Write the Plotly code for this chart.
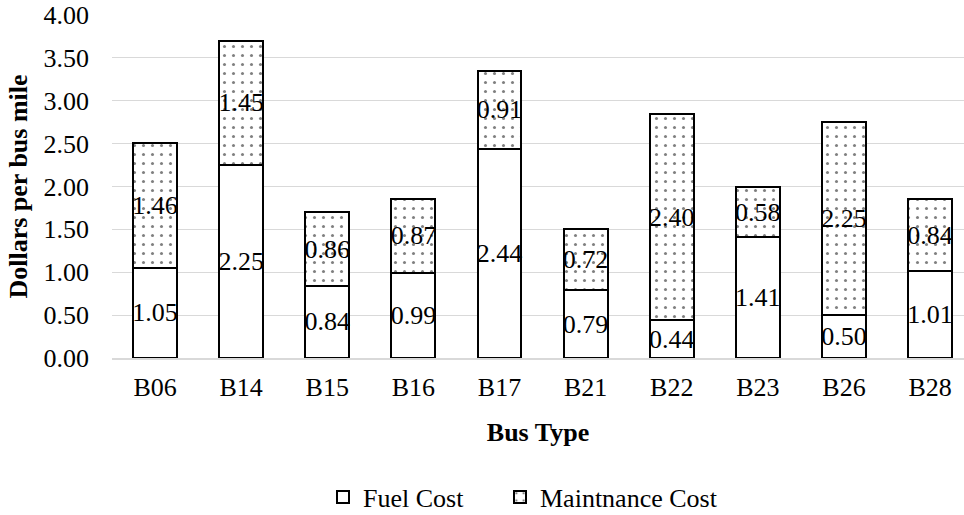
import plotly.graph_objects as go

# Cost per bus mile, split into fuel and maintenance, by bus type
bus_types = ["B06", "B14", "B15", "B16", "B17", "B21", "B22", "B23", "B26", "B28"]
fuel_cost = [1.05, 2.25, 0.84, 0.99, 2.44, 0.79, 0.44, 1.41, 0.50, 1.01]
maint_cost = [1.46, 1.45, 0.86, 0.87, 0.91, 0.72, 2.40, 0.58, 2.25, 0.84]
y_ticks = [0, 0.5, 1.0, 1.5, 2.0, 2.5, 3.0, 3.5, 4.0]

FONT = "Liberation Serif, Times New Roman, serif"
GRID = "#d9d9d9"
SIZE = 26

label_font = dict(family=FONT, size=SIZE, color="black")

common = dict(
    x=bus_types,
    width=0.51,
    textposition="inside",
    insidetextanchor="middle",
    textangle=0,
    constraintext="none",
    texttemplate="%{y:.2f}",
    textfont=label_font,
    insidetextfont=label_font,
)

fig = go.Figure()
fig.add_trace(go.Bar(
    name="Fuel Cost",
    y=fuel_cost,
    legend="legend",
    marker=dict(color="white", line=dict(color="black", width=2)),
    **common,
))
fig.add_trace(go.Bar(
    name="Maintnance Cost",
    y=maint_cost,
    legend="legend2",
    marker=dict(
        color="white",
        line=dict(color="black", width=2),
        pattern=dict(shape=".", fgcolor="black", bgcolor="white",
                     size=9, solidity=0.09, fillmode="overlay"),
    ),
    **common,
))

legend_common = dict(
    orientation="h",
    xref="container", yref="container",
    xanchor="left",
    y=0.035, yanchor="middle",
    font=dict(family=FONT, size=SIZE, color="black"),
    itemwidth=30,
    bgcolor="rgba(0,0,0,0)",
)

fig.update_layout(
    barmode="stack",
    width=964,
    height=515,
    margin=dict(l=112, r=0, t=15, b=157),
    paper_bgcolor="white",
    plot_bgcolor="white",
    font=dict(family=FONT, size=SIZE, color="black"),
    showlegend=True,
    legend=dict(x=323 / 964, **legend_common),
    legend2=dict(x=500 / 964, **legend_common),
    xaxis=dict(
        range=[-0.5, 9.394],
        showgrid=False,
        showline=True,
        linecolor=GRID,
        linewidth=1.5,
        layer="above traces",
        ticks="",
        ticklabelstandoff=5,
        tickfont=dict(family=FONT, size=SIZE),
        title=dict(text="<b>Bus Type</b>", font=dict(family=FONT, size=SIZE), standoff=22),
    ),
    yaxis=dict(
        range=[0, 4],
        tickvals=y_ticks,
        tickformat=".2f",
        showgrid=True,
        gridcolor=GRID,
        gridwidth=1,
        zeroline=False,
        ticks="",
        ticklabelstandoff=22,
        tickfont=dict(family=FONT, size=SIZE),
        title=dict(text="<b>Dollars per bus mile</b>", font=dict(family=FONT, size=SIZE), standoff=8),
    ),
)

fig.write_html("out.html")
